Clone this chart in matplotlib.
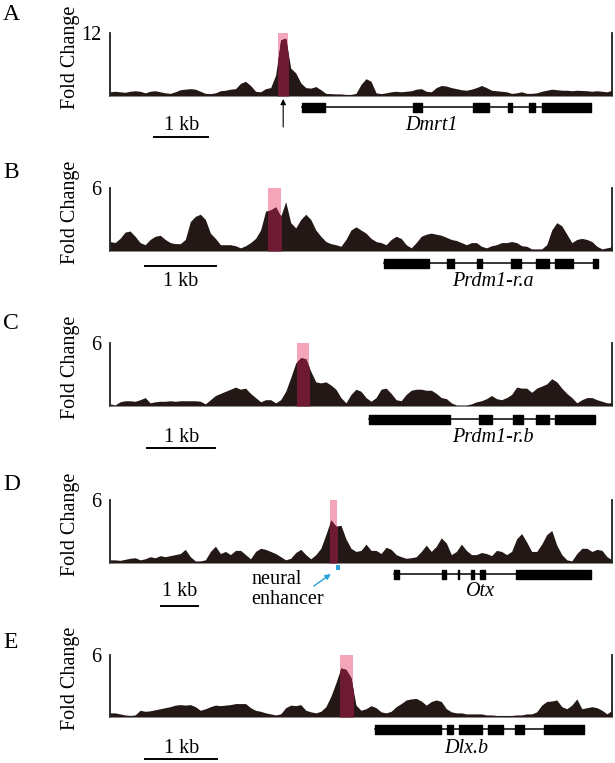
import numpy as np
import matplotlib
matplotlib.use('Agg')
import matplotlib.pyplot as plt
from matplotlib.patches import Rectangle

plt.rcParams['font.family'] = ['Liberation Serif', 'DejaVu Serif']

# ---------------- data ----------------
panel_labels = ['A', 'B', 'C', 'D', 'E']
y_max = [12, 6, 6, 6, 6]
gene_names = ['Dmrt1', 'Prdm1-r.a', 'Prdm1-r.b', 'Otx', 'Dlx.b']
window_kb = [9.3, 7.07, 7.38, 13.6, 6.97]   # window width in kb

# fold-change signal sampled every 1% of the window
signal_A = [0.8, 0.9, 0.8, 0.7, 0.9, 1.0, 0.9, 0.6, 0.9, 1.0,
            0.8, 0.6, 0.5, 0.8, 1.2, 1.3, 1.4, 1.3, 0.9, 0.5,
            0.45, 0.6, 1.0, 1.1, 1.3, 1.4, 2.4, 2.8, 2.0, 0.9,
            0.8, 1.4, 1.6, 4.0, 10.7, 11.0, 5.3, 4.4, 2.5, 1.6,
            1.5, 1.8, 1.2, 0.5, 0.45, 0.4, 0.4, 0.3, 0.3, 0.5,
            2.2, 3.3, 2.8, 0.6, 0.45, 0.6, 0.8, 0.9, 0.8, 0.9,
            1.0, 1.3, 1.4, 0.9, 0.8, 1.6, 2.0, 1.9, 1.6, 1.4,
            1.2, 1.1, 1.3, 1.6, 2.0, 1.6, 1.1, 1.0, 0.9, 0.8,
            0.5, 0.6, 0.8, 0.5, 0.5, 0.6, 0.9, 1.1, 1.3, 1.2,
            1.1, 1.1, 1.0, 1.1, 1.05, 1.0, 0.9, 1.0, 0.9, 0.8,
            1.1]
signal_B = [0.9, 0.8, 1.2, 1.8, 1.9, 1.4, 0.8, 0.6, 1.1, 1.4,
            1.5, 1.1, 0.8, 0.7, 0.7, 1.1, 2.8, 3.3, 3.5, 3.0,
            1.7, 1.2, 0.6, 0.6, 0.6, 0.5, 0.3, 0.5, 0.8, 1.2,
            2.0, 3.8, 3.9, 4.2, 3.3, 4.7, 2.7, 2.2, 3.0, 3.5,
            3.0, 2.0, 1.4, 0.9, 0.7, 0.6, 0.45, 1.1, 2.0, 2.3,
            2.0, 1.7, 1.2, 0.9, 0.8, 0.6, 1.1, 1.4, 1.2, 0.6,
            0.3, 0.8, 1.4, 1.6, 1.7, 1.6, 1.5, 1.3, 1.1, 1.0,
            0.8, 0.6, 0.8, 0.8, 0.45, 0.3, 0.5, 0.6, 0.8, 0.8,
            0.9, 0.8, 0.5, 0.45, 0.2, 0.2, 0.2, 0.6, 2.0, 2.7,
            2.4, 1.6, 0.8, 1.1, 1.2, 1.1, 0.9, 0.45, 0.2, 0.3,
            0.4]
signal_C = [0.2, 0.1, 0.4, 0.5, 0.5, 0.45, 0.6, 0.8, 0.3, 0.4,
            0.45, 0.45, 0.5, 0.45, 0.5, 0.5, 0.5, 0.5, 0.45, 0.2,
            0.6, 1.0, 1.2, 1.4, 1.6, 1.8, 1.6, 1.7, 1.2, 0.8,
            0.4, 0.6, 0.6, 0.3, 0.6, 1.4, 2.7, 4.1, 4.6, 4.5,
            3.3, 2.3, 2.2, 2.3, 2.0, 1.6, 0.8, 0.3, 1.1, 1.6,
            1.4, 0.8, 0.45, 0.8, 1.6, 1.7, 1.2, 0.6, 0.5, 1.1,
            1.5, 1.6, 1.6, 1.5, 1.5, 1.2, 0.8, 0.7, 0.3, 0.1,
            0.1, 0.1, 0.2, 0.4, 0.5, 0.7, 1.0, 0.7, 0.6, 0.8,
            1.1, 1.8, 1.7, 1.7, 1.3, 1.7, 1.9, 2.1, 2.6, 2.3,
            1.7, 1.2, 0.8, 0.3, 0.6, 0.8, 0.8, 0.6, 0.45, 0.3,
            0.3]
signal_D = [0.3, 0.3, 0.25, 0.35, 0.45, 0.5, 0.3, 0.4, 0.6, 0.5,
            0.7, 0.6, 0.7, 0.8, 0.9, 1.3, 0.6, 0.2, 0.2, 0.3,
            1.1, 1.6, 0.9, 1.1, 0.8, 1.2, 1.2, 0.8, 0.4, 1.1,
            1.4, 1.3, 1.1, 0.9, 0.6, 0.3, 0.45, 1.0, 1.3, 0.8,
            0.4, 0.8, 1.4, 2.7, 4.1, 3.5, 3.6, 2.3, 1.4, 1.1,
            1.2, 1.8, 1.2, 1.2, 0.9, 1.5, 1.3, 0.8, 0.6, 0.45,
            0.5, 0.6, 1.1, 1.7, 1.1, 1.6, 2.4, 1.9, 0.8, 1.1,
            1.8, 1.2, 0.8, 0.8, 1.0, 0.9, 0.7, 1.2, 1.1, 0.8,
            1.1, 2.3, 2.8, 2.0, 1.1, 1.1, 1.8, 2.7, 3.1, 1.7,
            0.8, 0.3, 0.2, 0.9, 1.4, 1.4, 1.1, 1.3, 1.2, 0.6,
            0.3]
signal_E = [0.4, 0.4, 0.3, 0.2, 0.15, 0.2, 0.65, 0.55, 0.6, 0.7,
            0.8, 0.9, 1.0, 1.15, 1.2, 1.15, 1.2, 1.0, 0.65, 0.8,
            1.0, 1.15, 1.1, 1.15, 1.2, 1.3, 1.3, 1.3, 0.9, 0.65,
            0.55, 0.4, 0.3, 0.2, 0.3, 0.9, 1.15, 1.1, 1.2, 0.65,
            0.5, 0.4, 0.55, 1.0, 2.0, 3.3, 4.75, 4.6, 3.8, 1.15,
            0.65, 0.8, 1.1, 0.9, 0.5, 0.4, 0.55, 1.0, 1.3, 1.65,
            1.75, 1.8, 1.55, 1.15, 1.5, 1.65, 1.5, 0.8, 0.5, 0.4,
            0.4, 0.3, 0.3, 0.3, 0.3, 0.2, 0.2, 0.15, 0.15, 0.15,
            0.15, 0.2, 0.2, 0.3, 0.3, 0.5, 1.15, 1.5, 1.55, 1.65,
            1.0, 0.8, 1.15, 1.75, 0.8, 0.9, 1.0, 0.9, 0.65, 0.3,
            0.65]
signals = [signal_A, signal_B, signal_C, signal_D, signal_E]

# highlighted peak regions (% of window)
peak_A = (33.5, 35.4)
peak_B = (31.4, 34.0)
peak_C = (37.3, 39.7)
peak_D = (43.9, 45.3)
peak_E = (45.8, 48.5)
peaks = [peak_A, peak_B, peak_C, peak_D, peak_E]

# exons (% of window)
exons_A = [(38.2, 42.8), (60.4, 62.2), (72.3, 75.5), (79.3, 80.1), (83.5, 84.7), (86.1, 95.8)]
exons_B = [(54.6, 63.5), (67.1, 68.5), (73.1, 74.1), (79.9, 81.9), (84.9, 87.5), (88.6, 92.2), (96.2, 97.2)]
exons_C = [(51.6, 67.7), (73.5, 76.1), (80.3, 82.3), (84.9, 87.5), (88.6, 96.6)]
exons_D = [(56.6, 57.6), (66.1, 66.9), (69.3, 69.6), (71.9, 72.5), (73.7, 74.7), (80.9, 95.8)]
exons_E = [(52.8, 65.9), (67.1, 68.3), (69.5, 74.1), (75.3, 78.3), (80.7, 82.5), (86.5, 94.4)]
exons = [exons_A, exons_B, exons_C, exons_D, exons_E]

# ---------------- layout (pixels) ----------------
W, H = 615, 763
PINK = '#f4a5b9'
RED = '#6e1a32'
DARK = '#231815'

track_top = [33, 188, 343, 500, 655]
track_base = [96, 251, 406, 563, 717]
letter_y = [15, 172, 324, 484, 643]
gene_off = [11, 12, 13, 11, 12]
text_off = [30, 30, 31, 29, 31]
bar_off = [41, 15, 42, 43, 42]
bar_start = [8.8, 7.0, 7.4, 10.2, 7.0]
gene_text_x = [64.1, 76.3, 76.3, 73.9, 70.9]

fig = plt.figure(figsize=(W / 100, H / 100), dpi=100)

for i in range(5):
    top, base = track_top[i], track_base[i]
    ymax = y_max[i]
    ax = fig.add_axes([110 / W, 1 - base / H, 502 / W, (base - top) / H])
    vals = np.array(signals[i])
    x = np.linspace(0, 100, len(vals))
    p0, p1 = peaks[i]
    ax.axvspan(p0, p1, color=PINK, lw=0, zorder=1)
    ax.fill_between(x, 0, vals, color=DARK, lw=0, zorder=2)
    fb = ax.fill_between(x, 0, vals, color=RED, lw=0, zorder=3)
    fb.set_clip_path(Rectangle((p0, 0), p1 - p0, ymax, transform=ax.transData))
    ax.set_xlim(0, 100)
    ax.set_ylim(0, ymax)
    ax.spines['top'].set_visible(False)
    ax.spines['bottom'].set_color('#8a8a8a')
    ax.spines['bottom'].set_linewidth(0.6)
    for s in ('left', 'right'):
        ax.spines[s].set_color('#1e1e1e')
        ax.spines[s].set_linewidth(1.3)
    ax.set_xticks([])
    ax.set_yticks([ymax])
    ax.set_yticklabels([str(ymax)])
    ax.tick_params(axis='y', length=0, pad=6, labelsize=14.5)
    ax.patch.set_alpha(0)

    # annotation axes below the track (y in pixels below baseline)
    an = fig.add_axes([110 / W, 1 - (base + 50) / H, 502 / W, 50 / H])
    an.set_xlim(0, 100)
    an.set_ylim(50, 0)
    an.axis('off')
    ex = exons[i]
    g = gene_off[i]
    an.plot([ex[0][0], ex[-1][1]], [g, g], color='black', lw=1.1)
    an.broken_barh([(s, e - s) for s, e in ex], (g - 4.5, 9), color='black')
    an.text(gene_text_x[i], text_off[i], gene_names[i], style='italic',
            ha='center', va='center', fontsize=14.5)
    bl = 100 / window_kb[i]
    an.plot([bar_start[i], bar_start[i] + bl], [bar_off[i]] * 2, color='black', lw=1.4)
    an.text(bar_start[i] + bl / 2, text_off[i], '1 kb',
            ha='center', va='center', fontsize=14.5)

    if i == 0:
        an.annotate('', xy=(34.5, 3), xytext=(34.5, 31),
                    arrowprops=dict(arrowstyle='-|>', color='black', lw=0.8,
                                    mutation_scale=8, shrinkA=0, shrinkB=0))
    if i == 3:
        an.add_patch(Rectangle((45.0, 2), 0.8, 5, color='#29a3dd', lw=0))
        an.annotate('', xy=(44.0, 11), xytext=(40.6, 23),
                    arrowprops=dict(arrowstyle='-|>', color='#29a3dd', lw=1.0,
                                    mutation_scale=8, shrinkA=0, shrinkB=0))
        an.text(28.1, 17, 'neural', ha='left', va='center', fontsize=14.5)
        an.text(28.1, 36, 'enhancer', ha='left', va='center', fontsize=14.5)

    fig.text(3 / W, 1 - letter_y[i] / H, panel_labels[i], ha='left', va='center', fontsize=17)
    fig.text(70 / W, 1 - (base - 39) / H, 'Fold Change', rotation=90,
             ha='center', va='center', fontsize=14.5)

fig.savefig('out.png', dpi=100)
